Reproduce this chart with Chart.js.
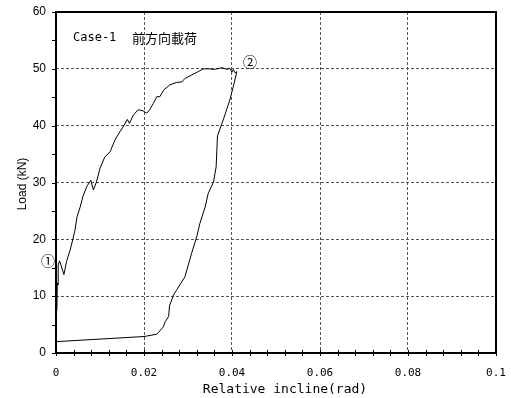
<!DOCTYPE html>
<html>
<head>
<meta charset="utf-8">
<script src="https://cdn.jsdelivr.net/npm/chart.js@4"></script>
<style>
  html, body { margin: 0; padding: 0; background: #fff; }
  #wrap { width: 511px; height: 398px; }
</style>
</head>
<body>
<div id="wrap"><canvas id="myChart" width="511" height="398"></canvas></div>
<script>
// load path: loading up to (2), then unloading back
const inclineX = [
  0.0002, 0.0003, 0.0006, 0.0005, 0.0008, 0.0012, 0.0018, 0.0024, 0.0032, 0.0038,
  0.0043, 0.0048, 0.0055, 0.0061, 0.0070, 0.0079, 0.0085, 0.0092, 0.0100, 0.0111,
  0.0123, 0.0134, 0.0145, 0.0155, 0.0162, 0.0167, 0.0176, 0.0187, 0.0198, 0.0206,
  0.0213, 0.0221, 0.0229, 0.0236, 0.0245, 0.0259, 0.0274, 0.0286, 0.0293, 0.0308,
  0.0323, 0.0335, 0.0346, 0.0360, 0.0377, 0.0388, 0.0395, 0.0400, 0.0403, 0.0407,
  0.0411,
  0.0403, 0.0395, 0.0380, 0.0367, 0.0364, 0.0358, 0.0346, 0.0339, 0.0327, 0.0320,
  0.0308, 0.0293, 0.0267, 0.0258, 0.0256, 0.0248, 0.0244, 0.0229, 0.0200, 0.0001
];
const loadKN = [
  7.5, 12.3, 12.0, 15.5, 16.2, 15.3, 13.8, 16.1, 18.1, 19.9,
  21.6, 24.0, 25.7, 27.5, 29.3, 30.4, 28.7, 30.1, 32.5, 34.5,
  35.4, 37.5, 38.9, 40.1, 41.1, 40.4, 41.9, 42.8, 42.6, 42.2,
  42.8, 43.9, 45.1, 45.1, 46.3, 47.2, 47.6, 47.7, 48.3, 48.9,
  49.5, 50.0, 50.0, 49.9, 50.2, 49.9, 50.1, 49.4, 49.9, 49.3,
  49.5,
  46.9, 44.5, 41.0, 38.2, 32.8, 30.1, 28.1, 25.7, 22.8, 20.5,
  17.5, 13.4, 10.2, 8.3, 6.4, 5.5, 4.6, 3.3, 2.9, 2.0
];

const xTickLabels = ['0', '0.02', '0.04', '0.06', '0.08', '0.1'];
const yTickLabels = ['0', '10', '20', '30', '40', '50', '60'];

const points = inclineX.map((x, i) => ({ x: x, y: loadKN[i] }));

const monoFont = "'DejaVu Sans Mono', 'Noto Sans CJK JP', monospace";

// frame, minor ticks, titles and the (1)/(2) marks
const extras = {
  id: 'extras',
  afterDraw(chart) {
    const ctx = chart.ctx;
    const a = chart.chartArea;
    const xs = chart.scales.x, ys = chart.scales.y;
    ctx.save();
    ctx.strokeStyle = '#000';
    ctx.lineWidth = 1;
    ctx.beginPath();
    for (let v = 0; v <= 0.1001; v += 0.004) {
      const px = Math.round(xs.getPixelForValue(v)) + 0.5;
      ctx.moveTo(px, a.bottom - 3);
      ctx.lineTo(px, a.bottom + 3);
    }
    for (let v = 0; v <= 60; v += 5) {
      const py = Math.round(ys.getPixelForValue(v)) + 0.5;
      ctx.moveTo(a.left - 4, py);
      ctx.lineTo(a.left, py);
    }
    ctx.stroke();

    ctx.lineWidth = 2;
    ctx.strokeRect(a.left, a.top, a.right - a.left, a.bottom - a.top);

    ctx.fillStyle = '#000';
    ctx.textBaseline = 'middle';
    ctx.textAlign = 'left';
    ctx.font = "12px " + monoFont;
    ctx.fillText('Case-1', 73, 38);
    ctx.font = "13px 'Noto Sans CJK JP'";
    ctx.fillText('前方向載荷', 132, 38);

    ctx.textAlign = 'center';
    ctx.font = "14px 'Noto Sans CJK JP'";
    ctx.fillText('①', 48, 261);
    ctx.fillText('②', 250, 62);

    ctx.font = "13px " + monoFont;
    ctx.fillText('Relative incline(rad)', 285, 390);

    ctx.translate(23, 184);
    ctx.rotate(-Math.PI / 2);
    ctx.font = "12px 'Liberation Sans', Arial, sans-serif";
    ctx.fillText('Load (kN)', 0, 0);
    ctx.restore();
  }
};

const ctx = document.getElementById('myChart');

new Chart(ctx, {
  type: 'scatter',
  data: {
    datasets: [{
      data: points,
      showLine: true,
      borderColor: '#000',
      borderWidth: 1,
      pointRadius: 0,
      tension: 0
    }]
  },
  options: {
    responsive: false,
    animation: false,
    layout: { padding: { left: 0, top: 12, right: 15, bottom: 0 } },
    plugins: { legend: { display: false }, tooltip: { enabled: false } },
    scales: {
      x: {
        type: 'linear',
        min: 0, max: 0.1,
        afterFit: s => { s.height = 45; s.paddingLeft = 0; s.paddingRight = 0; },
        afterBuildTicks: s => { s.ticks = xTickLabels.map(t => ({ value: parseFloat(t) })); },
        ticks: {
          padding: 14,
          color: '#000',
          font: { family: monoFont, size: 11 },
          maxRotation: 0,
          callback: (v, i) => xTickLabels[i]
        },
        grid: { color: '#555', lineWidth: 1, drawTicks: false },
        border: { display: false, dash: [3, 2] }
      },
      y: {
        type: 'linear',
        min: 0, max: 60,
        afterFit: s => { s.width = 56; s.paddingTop = 0; s.paddingBottom = 0; },
        afterBuildTicks: s => { s.ticks = yTickLabels.map(t => ({ value: parseFloat(t) })); },
        ticks: {
          padding: 10,
          color: '#000',
          font: { family: "'Liberation Sans', Arial, sans-serif", size: 12 },
          callback: (v, i) => yTickLabels[i]
        },
        grid: { color: '#555', lineWidth: 1, drawTicks: false },
        border: { display: false, dash: [3, 2] }
      }
    }
  },
  plugins: [extras]
});
</script>
</body>
</html>
